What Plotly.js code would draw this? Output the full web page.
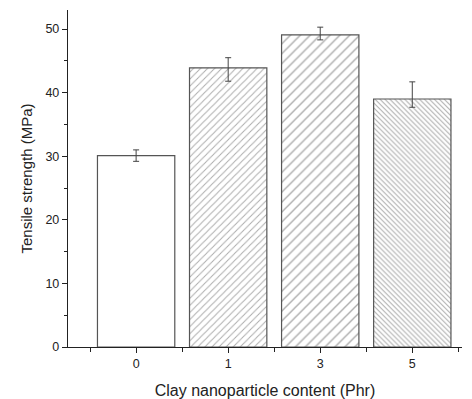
<!DOCTYPE html>
<html>
<head>
<meta charset="utf-8">
<script src="https://cdn.plot.ly/plotly-3.0.1.min.js"></script>
<style>html,body{margin:0;padding:0;background:#fff;}#chart{width:472px;height:399px;}</style>
</head>
<body>
<div id="chart"></div>
<script>
const categories = ['0', '1', '3', '5'];
const strength = [30.1, 43.9, 49.1, 39.0];
const errPlus = [0.9, 1.6, 1.2, 2.7];
const errMinus = [0.9, 2.1, 0.8, 1.3];
const patternShapes = ['', '/', '/', '\\'];
const patternSizes = [8, 5, 7, 3.5];
const patternSolidity = [0.2, 0.2, 0.2, 0.3];

const xs = categories.map((c, i) => i);

const trace = {
  type: 'bar',
  x: xs,
  y: strength,
  width: 0.84,
  marker: {
    color: '#ffffff',
    line: { color: '#555555', width: 1.2 },
    pattern: {
      shape: patternShapes,
      size: patternSizes,
      solidity: patternSolidity,
      fgcolor: '#5a5a5a',
      bgcolor: '#ffffff',
      fillmode: 'overlay'
    }
  },
  error_y: {
    type: 'data',
    symmetric: false,
    array: errPlus,
    arrayminus: errMinus,
    color: '#444444',
    thickness: 1,
    width: 3
  },
  hoverinfo: 'none'
};

const layout = {
  width: 472,
  height: 399,
  margin: { l: 68, r: 10, t: 10, b: 52 },
  paper_bgcolor: '#ffffff',
  plot_bgcolor: '#ffffff',
  showlegend: false,
  font: { family: 'Liberation Sans, Arial, sans-serif', color: '#222222', size: 12 },
  xaxis: {
    range: [-0.74, 3.54],
    tickmode: 'array',
    tickvals: xs,
    ticktext: categories,
    ticks: 'outside',
    ticklen: 5,
    tickcolor: '#222222',
    showline: true,
    linecolor: '#222222',
    linewidth: 1.2,
    showgrid: false,
    zeroline: false,
    minor: { tick0: -0.5, dtick: 1, ticks: 'outside', ticklen: 4, tickcolor: '#222222', showgrid: false },
    tickfont: { size: 12.5, color: '#222222' },
    title: { text: 'Clay nanoparticle content (Phr)', font: { size: 16, color: '#222222' }, standoff: 14 }
  },
  yaxis: {
    range: [0, 53],
    tickmode: 'linear',
    tick0: 0,
    dtick: 10,
    ticks: 'outside',
    ticklen: 5,
    tickcolor: '#222222',
    showline: true,
    linecolor: '#222222',
    linewidth: 1.2,
    showgrid: false,
    zeroline: false,
    minor: { dtick: 5, ticks: 'outside', ticklen: 3, tickcolor: '#222222', showgrid: false },
    tickfont: { size: 12.5, color: '#222222' },
    title: { text: 'Tensile strength (MPa)', font: { size: 15, color: '#222222' }, standoff: 9 }
  }
};

Plotly.newPlot('chart', [trace], layout, { displayModeBar: false, staticPlot: true });
</script>
</body>
</html>
